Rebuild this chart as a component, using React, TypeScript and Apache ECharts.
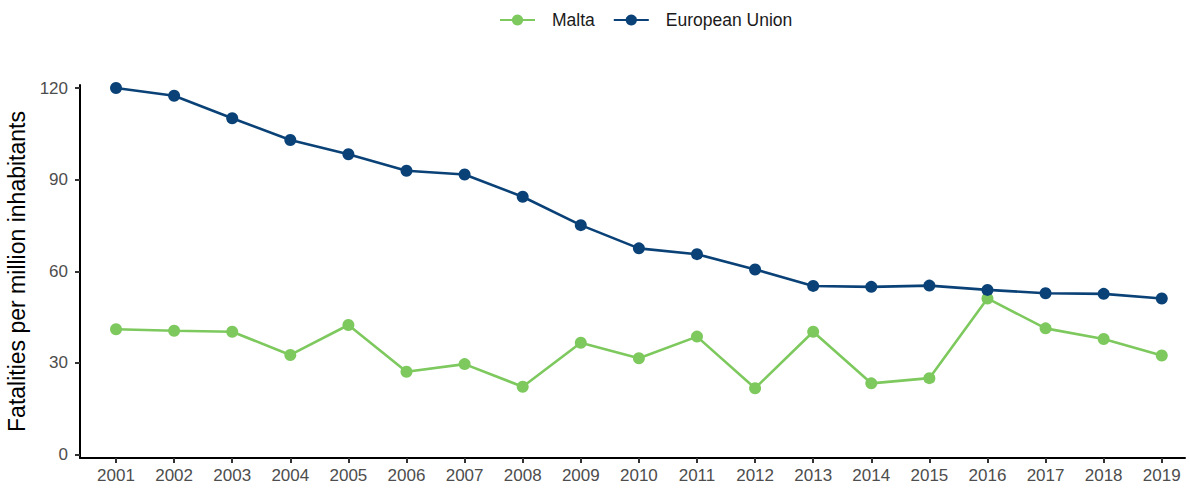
import React, { useEffect, useRef } from "react";
import * as echarts from "echarts";

const years = [2001, 2002, 2003, 2004, 2005, 2006, 2007, 2008, 2009, 2010, 2011, 2012, 2013, 2014, 2015, 2016, 2017, 2018, 2019];
const malta = [41.0, 40.5, 40.2, 32.6, 42.4, 27.1, 29.6, 22.2, 36.6, 31.5, 38.6, 21.7, 40.2, 23.3, 25.0, 51.1, 41.3, 37.8, 32.4];
const eu = [120.0, 117.5, 110.1, 103.0, 98.3, 92.9, 91.7, 84.4, 75.1, 67.5, 65.6, 60.6, 55.2, 54.9, 55.3, 53.9, 52.8, 52.6, 51.1];
const yTicks = [0, 30, 60, 90, 120];

const MALTA_COLOR = "#7dc95e";
const EU_COLOR = "#0a4277";

export default function App() {
  const ref = useRef<HTMLDivElement>(null);
  useEffect(() => {
    if (!ref.current) return;
    const chart = echarts.init(ref.current, null, { renderer: "svg" });
    const font = "'Liberation Sans', Arial, sans-serif";
    chart.setOption({
      animation: false,
      textStyle: { fontFamily: font },
      legend: {
        top: 11,
        left: 499,
        padding: 0,
        itemWidth: 35,
        itemHeight: 14,
        itemGap: 18,
        textStyle: { fontSize: 17.5, color: "#1a1a1a", fontFamily: font, padding: [0, 0, 0, 12] },
        data: ["Malta", "European Union"],
      },
      grid: { left: 80, right: 5, top: 85, bottom: 30, containLabel: false, outerBoundsMode: "none" },
      xAxis: {
        type: "value",
        min: 2000.38,
        max: 2019.4,
        splitLine: { show: false },
        axisLine: { show: true, onZero: false, lineStyle: { color: "#000", width: 2 } },
        axisTick: { show: true, length: 5, customValues: years, lineStyle: { color: "#333", width: 2 } },
        axisLabel: {
          customValues: years,
          formatter: (v: number) => String(Math.round(v)),
          fontSize: 17,
          color: "#4d4d4d",
          margin: 9,
          fontFamily: font,
        },
      },
      yAxis: {
        type: "value",
        min: -1.15,
        max: 121,
        name: "Fatalities per million inhabitants",
        nameLocation: "middle",
        nameGap: 45,
        nameRotate: 90,
        nameTextStyle: { fontSize: 23, color: "#000", fontFamily: font },
        splitLine: { show: false },
        axisLine: { show: true, lineStyle: { color: "#000", width: 2 } },
        axisTick: { show: true, length: 5, customValues: yTicks, lineStyle: { color: "#333", width: 2 } },
        axisLabel: {
          customValues: yTicks,
          fontSize: 17,
          color: "#4d4d4d",
          margin: 12,
          fontFamily: font,
        },
      },
      series: [
        {
          name: "Malta",
          type: "line",
          data: years.map((y, i) => [y, malta[i]]),
          symbol: "circle",
          symbolSize: 12,
          itemStyle: { color: MALTA_COLOR },
          lineStyle: { color: MALTA_COLOR, width: 2.6 },
        },
        {
          name: "European Union",
          type: "line",
          data: years.map((y, i) => [y, eu[i]]),
          symbol: "circle",
          symbolSize: 12,
          itemStyle: { color: EU_COLOR },
          lineStyle: { color: EU_COLOR, width: 2.6 },
        },
      ],
    });
    return () => chart.dispose();
  }, []);
  return (
    <div
      ref={ref}
      style={{ position: "fixed", left: 0, top: 0, width: 1190, height: 488, background: "#fff" }}
    />
  );
}
